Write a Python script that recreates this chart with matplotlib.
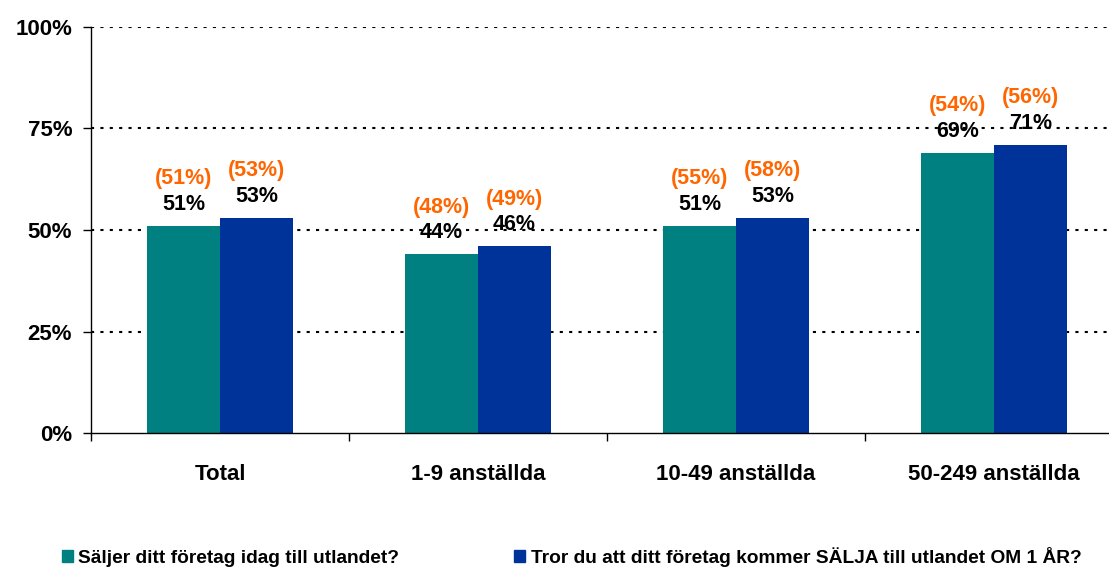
import matplotlib
matplotlib.use("Agg")
import matplotlib.pyplot as plt
from matplotlib.patches import Patch
import numpy as np

plt.rcParams['font.family'] = ['Liberation Sans', 'DejaVu Sans']
plt.rcParams['font.weight'] = 'bold'

categories = ["Total", "1-9 anställda", "10-49 anställda", "50-249 anställda"]
series_names = ["Säljer ditt företag idag till utlandet?",
                "Tror du att ditt företag kommer SÄLJA till utlandet OM 1 ÅR?"]
today = [51, 44, 51, 69]
one_year = [53, 46, 53, 71]
prev_today = ["(51%)", "(48%)", "(55%)", "(54%)"]
prev_one_year = ["(53%)", "(49%)", "(58%)", "(56%)"]
yticks = [0, 25, 50, 75, 100]

TEAL = "#008080"
BLUE = "#003399"
ORANGE = "#FF6600"

W, H = 1109, 567
fig = plt.figure(figsize=(W / 100, H / 100), dpi=100)
ax = fig.add_axes([91 / W, 1 - 433 / H, 1032 / W, 406 / H])

x = np.arange(len(categories))
bw = 0.283
b1 = ax.bar(x - bw / 2, today, bw, color=TEAL, zorder=2)
b2 = ax.bar(x + bw / 2, one_year, bw, color=BLUE, zorder=2)

ax.set_xlim(-0.5, 3.5)
ax.set_ylim(0, 100)
ax.set_yticks(yticks)
ax.set_yticklabels([f"{v}%" for v in yticks], fontsize=16, fontweight='bold')
for v in yticks[1:]:
    ax.axhline(v, color='black', linestyle=(0, (1.5, 3)), lw=1.5, zorder=1)

ax.set_xticks(np.arange(-0.5, 3.6, 1))
ax.set_xticklabels([])
ax.set_xticks(x, minor=True)
ax.set_xticklabels(categories, minor=True, fontsize=16, fontweight='bold')
ax.tick_params(axis='x', which='major', direction='out', length=6, width=1)
ax.tick_params(axis='x', which='minor', length=0, pad=22)
ax.tick_params(axis='y', direction='out', length=6, width=1, pad=7.5)
for s in ['top', 'right']:
    ax.spines[s].set_visible(False)
ax.spines['left'].set_linewidth(1)
ax.spines['bottom'].set_linewidth(1)

for bars, vals, prev in [(b1, today, prev_today), (b2, one_year, prev_one_year)]:
    for b, v, p in zip(bars, vals, prev):
        cx = b.get_x() + b.get_width() / 2
        ax.annotate(f"{v}%", (cx, v), xytext=(0, 15.5), textcoords='offset points',
                    ha='center', va='center', fontsize=15.5, fontweight='bold',
                    color='black', zorder=3)
        ax.annotate(p, (cx, v), xytext=(0, 34), textcoords='offset points',
                    ha='center', va='center', fontsize=15.5, fontweight='bold',
                    color=ORANGE, zorder=3)

handles = [Patch(color=TEAL), Patch(color=BLUE)]
fig.legend(handles, series_names, loc='center left', bbox_to_anchor=(62 / W, 1 - 557 / H),
           ncol=2, frameon=False, handlelength=0.55, handleheight=0.55,
           handletextpad=0.3, columnspacing=6.0, borderpad=0, borderaxespad=0,
           prop={'weight': 'bold', 'size': 13.8})

fig.savefig("out.png", dpi=100)
